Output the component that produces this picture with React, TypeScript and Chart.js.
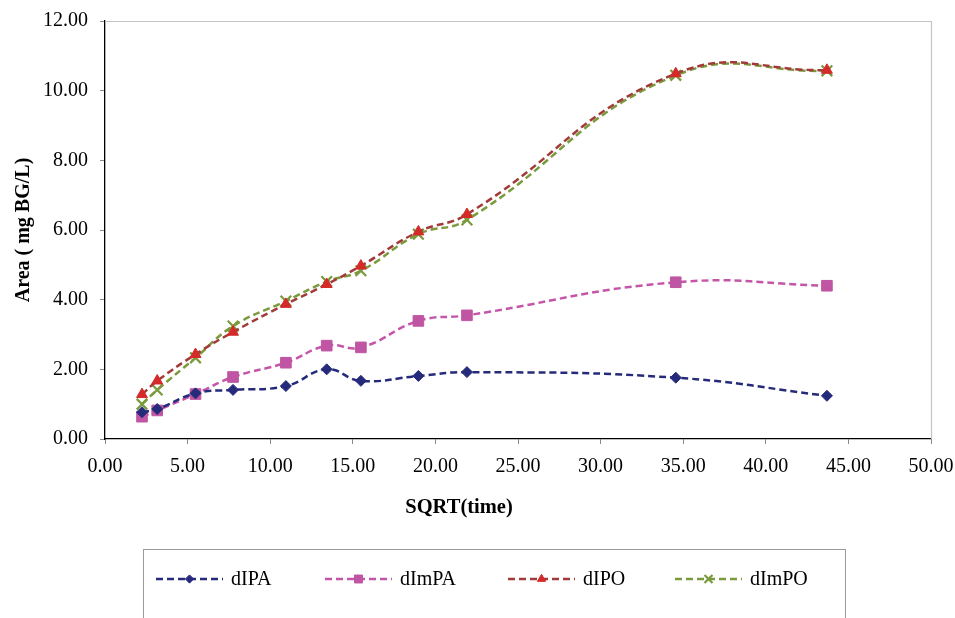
import React, { useEffect, useRef } from "react";
import { Chart, registerables } from "chart.js";
import { drawPoint } from "chart.js/helpers";

Chart.register(...registerables);

const sqrtTime = [2.24, 3.16, 5.48, 7.75, 10.95, 13.42, 15.49, 18.97, 21.91, 34.55, 43.7];
const dIPA = [0.77, 0.86, 1.31, 1.41, 1.52, 2.0, 1.67, 1.81, 1.92, 1.76, 1.24];
const dImPA = [0.64, 0.82, 1.29, 1.78, 2.19, 2.68, 2.63, 3.39, 3.55, 4.5, 4.4];
const dIPO = [1.28, 1.67, 2.43, 3.07, 3.87, 4.44, 4.97, 5.95, 6.45, 10.49, 10.59];
const dImPO = [1.0, 1.41, 2.33, 3.24, 3.96, 4.52, 4.83, 5.88, 6.29, 10.44, 10.57];
const seriesNames = ["dIPA", "dImPA", "dIPO", "dImPO"];
const xTitle = "SQRT(time)";
const yTitle = "Area ( mg BG/L)";

const FONT = "'Liberation Serif', 'Times New Roman', serif";

const styles = [
  { line: "#252B7A", point: "#252B7A", style: "rectRot", radius: 5.5, pw: 1 },
  { line: "#C455A8", point: "#BF55A3", style: "rect", radius: 7.5, pw: 1 },
  { line: "#A33A3A", point: "#D42A2A", style: "triangle", radius: 6.3, pw: 1 },
  { line: "#7A9A3C", point: "#7A9A3C", style: "crossRot", radius: 7.5, pw: 2.2 },
];

const legendItemX = [156, 325, 508, 675];

const framePlugin = {
  id: "frameLegend",
  beforeDatasetsDraw(chart: any) {
    const { ctx, chartArea: a } = chart;
    ctx.save();
    ctx.strokeStyle = "#c4c4c4";
    ctx.lineWidth = 1.2;
    ctx.beginPath();
    ctx.moveTo(a.left, Math.round(a.top) + 0.5);
    ctx.lineTo(Math.round(a.right) + 0.5, Math.round(a.top) + 0.5);
    ctx.lineTo(Math.round(a.right) + 0.5, a.bottom);
    ctx.stroke();
    ctx.restore();
  },
  afterDraw(chart: any) {
    const { ctx } = chart;
    ctx.save();
    // x-axis title (placed as in the reference, left of the plot centre)
    ctx.fillStyle = "#000";
    ctx.font = `bold 20.5px ${FONT}`;
    ctx.textAlign = "center";
    ctx.textBaseline = "middle";
    ctx.fillText(xTitle, 459, 508);

    ctx.strokeStyle = "#9a9a9a";
    ctx.lineWidth = 1;
    ctx.strokeRect(143.5, 549.5, 702, 100);
    const y = 579;
    chart.data.datasets.forEach((ds: any, i: number) => {
      const x0 = legendItemX[i];
      const len = 67;
      ctx.save();
      ctx.strokeStyle = ds.borderColor;
      ctx.lineWidth = ds.borderWidth;
      ctx.setLineDash(ds.borderDash);
      ctx.beginPath();
      ctx.moveTo(x0, y);
      ctx.lineTo(x0 + len, y);
      ctx.stroke();
      ctx.restore();
      ctx.save();
      ctx.fillStyle = ds.pointBackgroundColor;
      ctx.strokeStyle = ds.pointBorderColor;
      ctx.lineWidth = ds.pointBorderWidth;
      drawPoint(ctx, { pointStyle: ds.pointStyle, radius: ds.pointRadius * 0.75, borderWidth: ds.pointBorderWidth, rotation: 0 }, x0 + len / 2, y);
      ctx.restore();
      ctx.fillStyle = "#000";
      ctx.font = `20px ${FONT}`;
      ctx.textBaseline = "middle";
      ctx.textAlign = "left";
      ctx.fillText(ds.label, x0 + len + 8, y + 1);
    });
    ctx.restore();
  },
};

export default function App() {
  const ref = useRef<HTMLCanvasElement>(null);
  useEffect(() => {
    document.body.style.margin = "0";
    const allSeries = [dIPA, dImPA, dIPO, dImPO];
    const chart = new Chart(ref.current!, {
      type: "line",
      data: {
        datasets: allSeries.map((vals, i) => ({
          label: seriesNames[i],
          data: sqrtTime.map((x, j) => ({ x, y: vals[j] })),
          borderColor: styles[i].line,
          borderWidth: 2.5,
          borderDash: [7, 4],
          tension: 0.45,
          pointStyle: styles[i].style as any,
          pointRadius: styles[i].radius,
          pointBackgroundColor: styles[i].point,
          pointBorderColor: styles[i].point,
          pointBorderWidth: styles[i].pw,
          fill: false,
        })),
      },
      options: {
        animation: false,
        responsive: false,
        devicePixelRatio: 1,
        layout: { padding: { left: 8, right: 24, top: 21, bottom: 97 } },
        plugins: { legend: { display: false }, tooltip: { enabled: false } },
        scales: {
          x: {
            type: "linear",
            min: 0,
            max: 50,
            afterFit: (s: any) => { s.height = 82; s.paddingLeft = 0; s.paddingRight = 0; },
            ticks: {
              stepSize: 5,
              padding: 11,
              color: "#000",
              font: { family: FONT, size: 20 },
              callback: (v: any) => Number(v).toFixed(2),
            },
            grid: { display: true, drawOnChartArea: false, drawTicks: true, tickLength: 5, color: "#8a8a8a" },
            border: { display: true, color: "#000", width: 1.3 },
            title: { display: false, text: xTitle },
          },
          y: {
            min: 0,
            max: 12,
            afterFit: (s: any) => { s.width = 97; s.paddingTop = 0; s.paddingBottom = 0; },
            ticks: {
              stepSize: 2,
              padding: 12,
              color: "#000",
              font: { family: FONT, size: 20 },
              callback: (v: any) => Number(v).toFixed(2),
            },
            grid: { display: true, drawOnChartArea: false, drawTicks: true, tickLength: 5, color: "#8a8a8a" },
            border: { display: true, color: "#000", width: 1.3 },
            title: {
              display: true,
              text: yTitle,
              color: "#000",
              font: { family: FONT, size: 20, weight: "bold" },
              padding: { top: 4, bottom: 4 },
            },
          },
        },
      },
      plugins: [framePlugin],
    });
    return () => chart.destroy();
  }, []);
  return (
    <div style={{ width: 955, height: 618 }}>
      <canvas ref={ref} width={955} height={618} style={{ display: "block" }} />
    </div>
  );
}
